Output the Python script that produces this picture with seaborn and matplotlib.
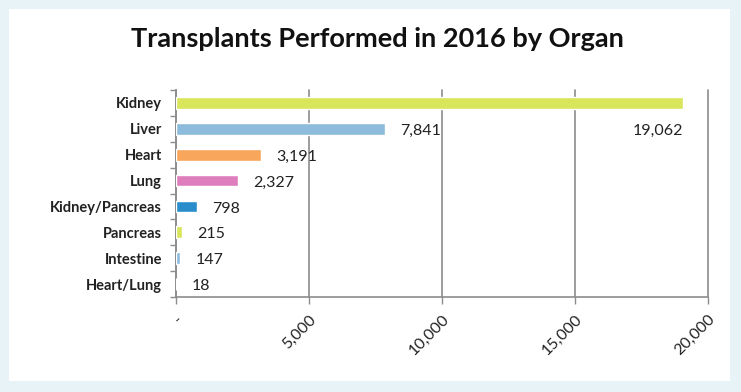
import matplotlib.pyplot as plt
import seaborn as sns
import pandas as pd
from matplotlib.patches import Rectangle

organs = ['Kidney', 'Liver', 'Heart', 'Lung', 'Kidney/Pancreas', 'Pancreas', 'Intestine', 'Heart/Lung']
transplants = [19062, 7841, 3191, 2327, 798, 215, 147, 18]
bar_colors = ['#d9e55a', '#8dbbdc', '#f8a65b', '#df7ebd', '#2a8dcb', '#d9e55a', '#8dbbdc', '#f8a65b']
x_ticks = [0, 5000, 10000, 15000, 20000]

df = pd.DataFrame({'organ': organs, 'count': transplants})

sns.set_style('white')
plt.rcParams['font.family'] = ['Lato', 'DejaVu Sans']

fig = plt.figure(figsize=(7.41, 3.92), dpi=100)
fig.patch.set_facecolor('#e8f3f8')
# white panel behind the chart
fig.patches.append(Rectangle((9 / 741, 1 - 381 / 392), 721 / 741, 372 / 392,
                             transform=fig.transFigure, facecolor='white',
                             edgecolor='none', zorder=-5))
ax = fig.add_axes([176 / 741, 1 - 297 / 392, 532 / 741, 207 / 392])
ax.set_facecolor('none')
ax.set_zorder(2)

sns.barplot(data=df, x='count', y='organ', hue='organ', palette=bar_colors,
            saturation=1, legend=False, width=0.45, ax=ax, zorder=3)

ax.set_xlim(0, 20000)
ax.set_xticks(x_ticks)
ax.set_xticklabels(['-' if v == 0 else f'{v:,}' for v in x_ticks],
                   rotation=45, ha='right', rotation_mode='anchor', fontsize=11.5,
                   color='#222222')
ax.tick_params(axis='x', length=5, width=1, color='#8c8c8c', direction='out',
               bottom=True, pad=6)
ax.grid(axis='x', color='#8c8c8c', linewidth=1.2, zorder=0)
for gl in ax.get_xgridlines():
    gl.set_clip_on(False)
ax.set_axisbelow(True)

# y ticks at category boundaries
ax.set_yticks(range(len(organs)))
ax.set_yticklabels(organs, fontsize=10.5, fontweight='bold', color='#222222')
ax.tick_params(axis='y', length=0, pad=10)
ax.set_yticks([i + 0.5 for i in range(-1, len(organs))], minor=True)
ax.tick_params(axis='y', which='minor', length=4, width=1, color='#8c8c8c', left=True)
ax.set_ylim(len(organs) - 0.5, -0.5)

ax.set_xlabel('')
ax.set_ylabel('')
for side in ['top', 'right']:
    ax.spines[side].set_visible(False)
for side in ['left', 'bottom']:
    ax.spines[side].set_color('#8c8c8c')
    ax.spines[side].set_linewidth(1.2)

for i, v in enumerate(transplants):
    if v > 15000:
        ax.text(v, i + 1.08, f'{v:,}', ha='right', va='center', fontsize=11.5,
                color='#222222')
    else:
        ax.annotate(f'{v:,}', (v, i + 0.08), xytext=(11, 0), textcoords='offset points',
                    ha='left', va='center', fontsize=11.5, color='#222222')

fig.text(0.51, 1 - 39 / 392, 'Transplants Performed in 2016 by Organ',
         ha='center', va='center', fontsize=19.5, fontweight='bold', color='#111111')

fig.savefig('out.png', dpi=100, facecolor=fig.get_facecolor())
